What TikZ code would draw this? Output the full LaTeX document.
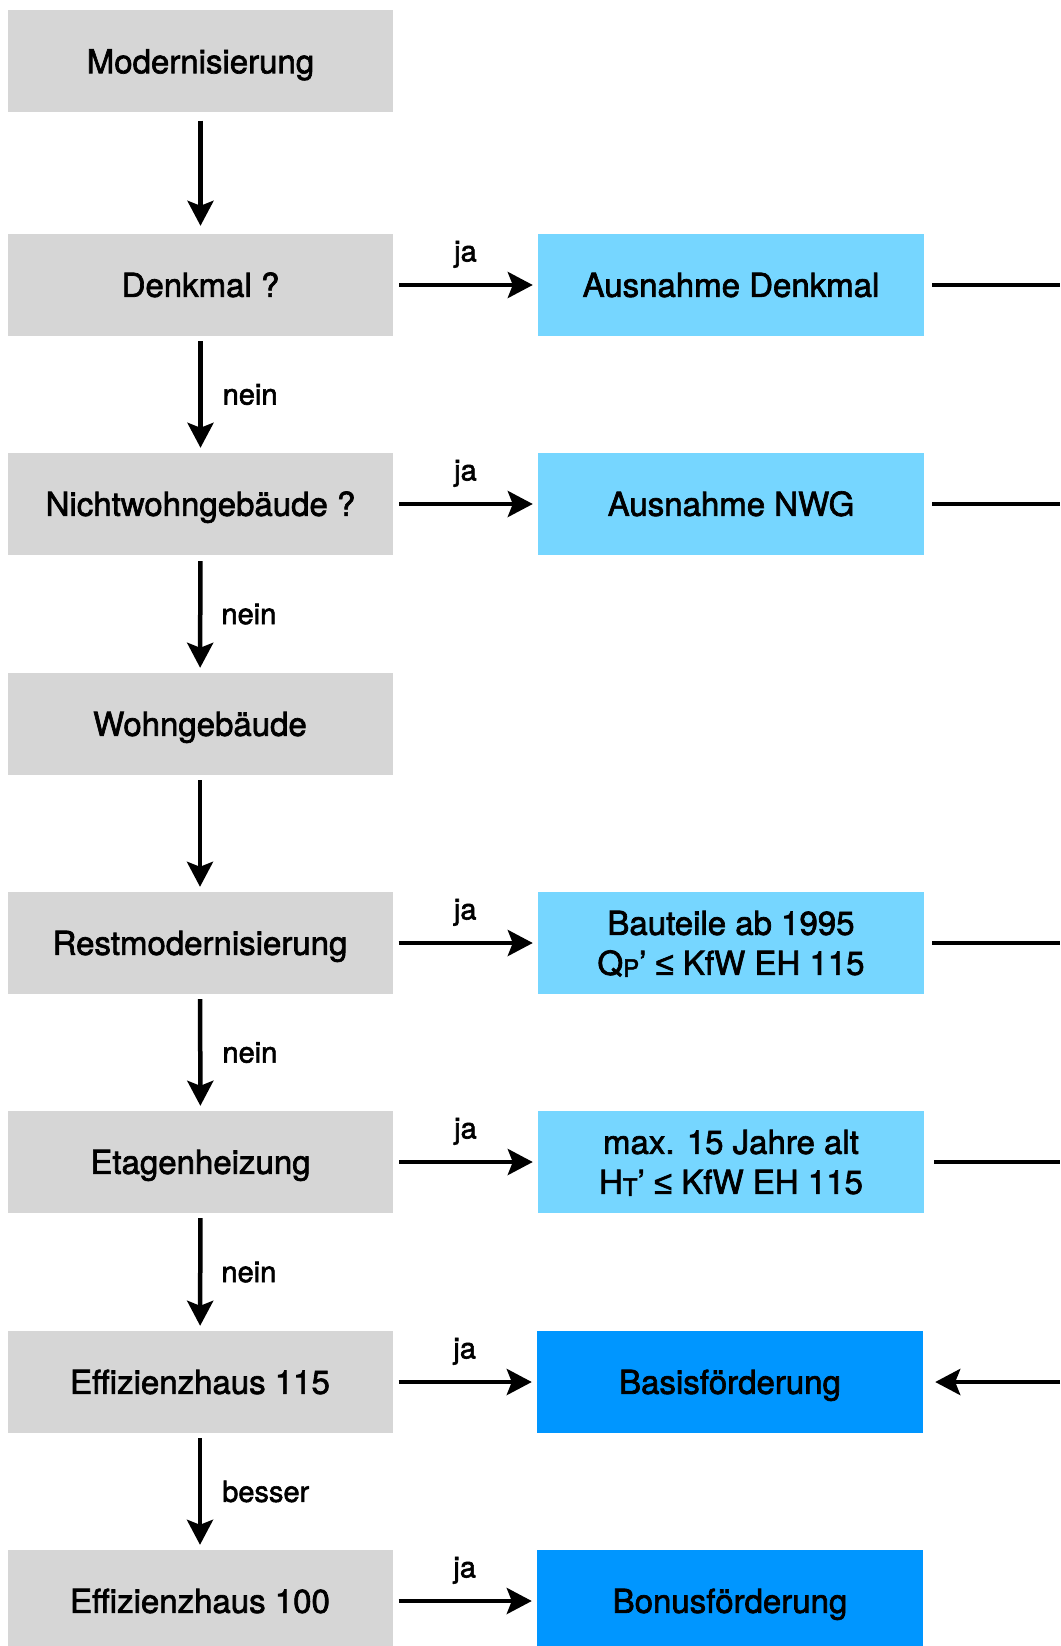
\documentclass[tikz,border=0pt]{standalone}
\usepackage{fontspec}
\setmainfont[FakeBold=2]{TeX Gyre Heros}
\newfontfamily\symfont[FakeBold=2]{Liberation Sans}
\usetikzlibrary{arrows.meta}
\definecolor{boxgray}{HTML}{D6D6D6}
\definecolor{skyblue}{HTML}{76D6FF}
\definecolor{aquablue}{HTML}{0096FF}
\newcommand{\leqsym}{{\symfont ≤}}
\newcommand{\subsc}[1]{{\fontsize{24}{24}\selectfont\raisebox{-2pt}{#1}}}
\begin{document}
\begin{tikzpicture}[x=1pt,y=-1pt,
  base/.style={inner sep=0pt, minimum height=102pt, font=\fontsize{33}{40}\selectfont, align=center, text=black,
    text height=23.7pt, text depth=0pt},
  twoline/.style={text height=63.7pt, text depth=0pt},
  gbox/.style={base, fill=boxgray, minimum width=385pt},
  lbox/.style={base, fill=skyblue, minimum width=386pt},
  dbox/.style={base, fill=aquablue, minimum width=386pt},
  conn/.style={line width=4.5pt},
  arr/.style={conn, -{Stealth[length=25pt,width=26pt,inset=5pt]}},
  lbl/.style={font=\fontsize{29}{29}\selectfont, inner sep=0pt},
]
\useasboundingbox (0,0) rectangle (1060,1646);
\fill[white] (0,0) rectangle (1060,1646);

% left column
\node[gbox] (mod)   at (200.5,61.4) {Modernisierung};
\node[gbox] (denk)  at (200.5,285)  {Denkmal ?};
\node[gbox] (nwg)   at (200.5,504)  {Nichtwohngebäude ?};
\node[gbox] (wohn)  at (200,724)    {Wohngebäude};
\node[gbox] (rest)  at (200,943)    {Restmodernisierung};
\node[gbox] (etag)  at (200.5,1162) {Etagenheizung};
\node[gbox] (eff115) at (200,1382)  {Effizienzhaus 115};
\node[gbox] (eff100) at (200,1601)  {Effizienzhaus 100};

% right column
\node[lbox] (adenk) at (731,285) {Ausnahme Denkmal};
\node[lbox] (anwg)  at (731,504) {Ausnahme NWG};
\node[lbox, twoline] (baut)  at (731,943) {Bauteile ab 1995\\Q\subsc{P}’ \leqsym{} KfW EH 115};
\node[lbox, twoline] (jahre) at (731,1162) {max. 15 Jahre alt\\H\subsc{T}’ \leqsym{} KfW EH 115};
\node[dbox] (basis) at (730,1382) {Basisförderung};
\node[dbox] (bonus) at (730,1601) {Bonusförderung};

% right edge coordinates
\coordinate (r1) at (1060,285);
\coordinate (r2) at (1060,504);
\coordinate (r4) at (1060,943);
\coordinate (r5) at (1060,1162);
\coordinate (r6) at (1060,1382);

% vertical arrows
\draw[arr, shorten <=8pt, shorten >=8pt] (mod) -- (denk);
\draw[arr, shorten <=5pt, shorten >=5pt] (denk) -- (nwg)
  node[lbl, midway, right=20pt] {nein};
\draw[arr, shorten <=6pt, shorten >=5pt] (nwg) -- (wohn)
  node[lbl, midway, right=19pt] {nein};
\draw[arr, shorten <=5pt, shorten >=5pt] (wohn) -- (rest);
\draw[arr, shorten <=5pt, shorten >=5pt] (rest) -- (etag)
  node[lbl, midway, right=20pt] {nein};
\draw[arr, shorten <=5pt, shorten >=5pt] (etag) -- (eff115)
  node[lbl, midway, right=19pt] {nein};
\draw[arr, shorten <=5pt, shorten >=5pt] (eff115) -- (eff100)
  node[lbl, midway, right=20pt] {besser};

% horizontal arrows
\foreach \a/\b in {denk/adenk, nwg/anwg, rest/baut, etag/jahre, eff115/basis, eff100/bonus}{
  \draw[arr, shorten <=6pt, shorten >=5pt] (\a.east) -- (\b.west)
    node[lbl, midway, above=15pt] {ja};
}

% right-side lines
\draw[conn, shorten <=8pt] (adenk.east) -- (r1);
\draw[conn, shorten <=8pt] (anwg.east) -- (r2);
\draw[conn, shorten <=8pt] (baut.east) -- (r4);
\draw[conn, shorten <=10pt] (jahre.east) -- (r5);
\draw[arr, shorten >=12pt] (r6) -- (basis.east);
\end{tikzpicture}
\end{document}
